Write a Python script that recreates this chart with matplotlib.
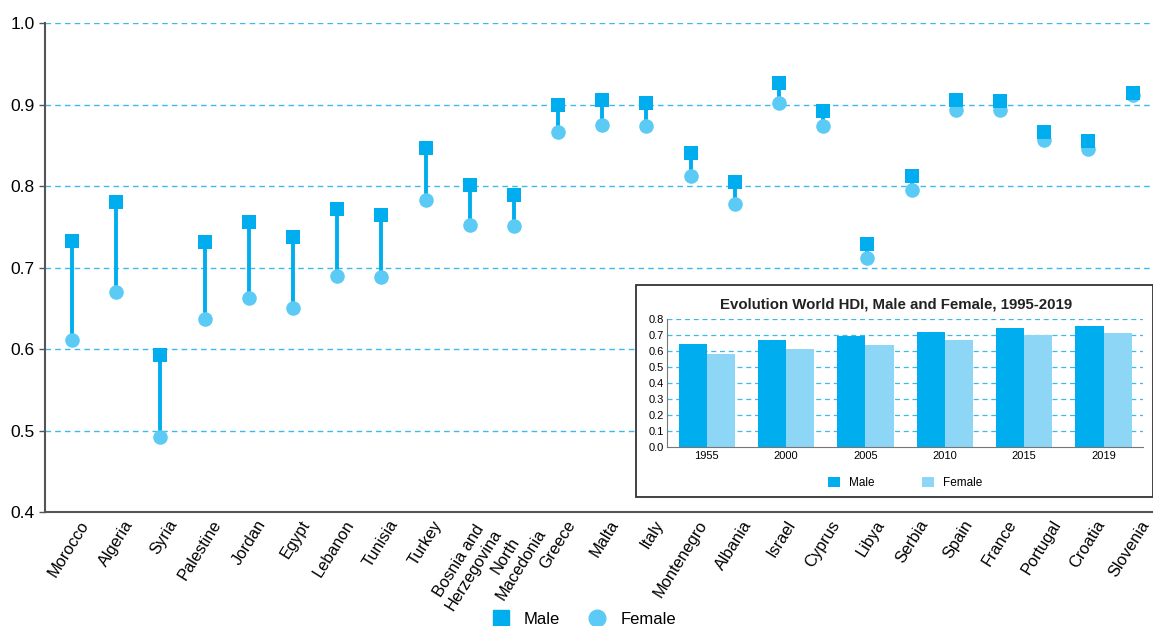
import matplotlib.pyplot as plt
import matplotlib.patches as mpatches
import numpy as np
from matplotlib.lines import Line2D

plt.rcParams['font.family'] = ['Liberation Sans', 'DejaVu Sans']

# HDI by country, male and female (2019)
countries = ['Morocco', 'Algeria', 'Syria', 'Palestine', 'Jordan', 'Egypt', 'Lebanon',
             'Tunisia', 'Turkey', 'Bosnia and\nHerzegovina', 'North\nMacedonia', 'Greece',
             'Malta', 'Italy', 'Montenegro', 'Albania', 'Israel', 'Cyprus', 'Libya',
             'Serbia', 'Spain', 'France', 'Portugal', 'Croatia', 'Slovenia']
male = [0.733, 0.780, 0.593, 0.731, 0.756, 0.737, 0.772, 0.764, 0.847, 0.801, 0.789,
        0.900, 0.906, 0.902, 0.841, 0.805, 0.926, 0.892, 0.729, 0.813, 0.906, 0.904,
        0.866, 0.855, 0.914]
female = [0.611, 0.670, 0.492, 0.637, 0.663, 0.651, 0.690, 0.688, 0.783, 0.752, 0.751,
          0.867, 0.875, 0.874, 0.812, 0.778, 0.902, 0.874, 0.712, 0.795, 0.894, 0.893,
          0.856, 0.845, 0.912]

# world HDI evolution (inset)
years = ['1955', '2000', '2005', '2010', '2015', '2019']
world_male = [0.645, 0.672, 0.697, 0.722, 0.748, 0.760]
world_female = [0.583, 0.613, 0.638, 0.672, 0.703, 0.715]

MALE_C = '#00AEEF'
FEMALE_C = '#5BCBF5'
FEMALE_BAR = '#8DD6F5'
GRID_C = '#3FB8EC'
SPINE_C = '#555555'

fig = plt.figure(figsize=(11.53, 6.26), dpi=100)
ax = fig.add_axes([0.039, 0.182, 0.961, 0.781])

x = np.arange(len(countries))
for xi, m, f in zip(x, male, female):
    ax.plot([xi, xi], [f, m], color=MALE_C, lw=2.8, zorder=2, solid_capstyle='butt')
ax.scatter(x, female, marker='o', s=110, color=FEMALE_C, zorder=3, linewidths=0)
ax.scatter(x, male, marker='s', s=110, color=MALE_C, zorder=4, linewidths=0)

ax.set_ylim(0.4, 1.0)
ax.set_xlim(-0.61, 24.46)
ax.set_yticks(np.arange(0.4, 1.01, 0.1))
ax.set_yticklabels([f'{v:.1f}' for v in np.arange(0.4, 1.01, 0.1)])
for v in np.arange(0.5, 1.01, 0.1):
    ax.axhline(v, color=GRID_C, lw=1, ls=(0, (4, 3)), zorder=1)
ax.set_xticks(x)
ax.set_xticklabels([])
# rotated country labels, anchored at their upper-right end
for xi, name in zip(x, countries):
    ax.annotate(name, xy=(xi, 0), xycoords=('data', 'axes fraction'),
                xytext=(5, -4), textcoords='offset points', rotation=58,
                ha='right', va='top', rotation_mode='anchor',
                multialignment='center', fontsize=11.8, annotation_clip=False)
ax.tick_params(axis='x', length=0)
ax.tick_params(axis='y', length=4, color=SPINE_C, labelsize=12.5, width=1)
for s in ['top', 'right']:
    ax.spines[s].set_visible(False)
for s in ['left', 'bottom']:
    ax.spines[s].set_color(SPINE_C)
    ax.spines[s].set_linewidth(1.5)

handles = [Line2D([], [], marker='s', ls='none', color=MALE_C, markersize=11, label='Male'),
           Line2D([], [], marker='o', ls='none', color=FEMALE_C, markersize=12, label='Female')]
fig.legend(handles=handles, loc='lower center', bbox_to_anchor=(0.503, -0.025), ncol=2,
           frameon=False, fontsize=12, handletextpad=0.4, columnspacing=1.2)

# inset frame
frame = mpatches.Rectangle((0.5516, 0.206), 0.448, 0.339, transform=fig.transFigure,
                           facecolor='white', edgecolor='#333333', lw=1.3, zorder=5)
fig.patches.append(frame)

ins = fig.add_axes([0.5785, 0.286, 0.413, 0.204])
ins.set_zorder(10)
xi = np.arange(len(years))
w = 0.355
ins.bar(xi - w / 2, world_male, width=w, color=MALE_C, zorder=2, label='Male')
ins.bar(xi + w / 2, world_female, width=w, color=FEMALE_BAR, zorder=2, label='Female')
ins.set_ylim(0, 0.8)
ins.set_xlim(-0.5, 5.5)
ins.set_yticks(np.arange(0, 0.81, 0.1))
ins.set_yticklabels([f'{v:.1f}' for v in np.arange(0, 0.81, 0.1)])
for v in np.arange(0.1, 0.81, 0.1):
    ins.axhline(v, color=GRID_C, lw=0.9, ls=(0, (4, 3)), zorder=1)
ins.set_xticks(xi)
ins.set_xticklabels(years)
ins.tick_params(labelsize=8, length=0, pad=2)
ins.tick_params(axis='x', pad=3)
for s in ['top', 'right']:
    ins.spines[s].set_visible(False)
ins.spines['left'].set_color('#777777')
ins.spines['bottom'].set_color('#777777')
ins.set_title('Evolution World HDI, Male and Female, 1995-2019', fontsize=10.8,
              fontweight='bold', color='#222222', pad=8, x=0.48)
ins.legend(loc='upper center', bbox_to_anchor=(0.5, -0.15), ncol=2, frameon=False,
           fontsize=8.5, handlelength=1.0, handleheight=1.0, columnspacing=4)

fig.savefig('out.png', dpi=100)
